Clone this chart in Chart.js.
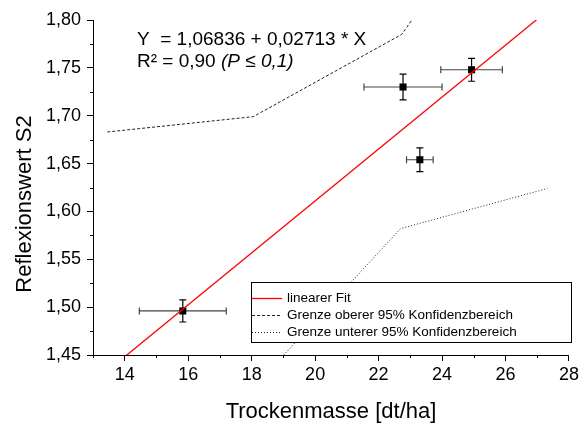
<!DOCTYPE html>
<html lang="de">
<head>
<meta charset="utf-8">
<title>Reflexionswert S2 und Trockenmasse</title>
<script src="https://cdn.jsdelivr.net/npm/chart.js"></script>
<style>
  body { margin: 0; background: #fff; }
  #wrap { width: 582px; height: 423px; position: relative; }
</style>
</head>
<body>
<div id="wrap"><canvas id="chart"></canvas></div>
<script>
// Mittelwerte mit Fehlern
const trockenmasse = [15.83, 22.77, 23.30, 24.93];
const trockenmasseFehler = [1.37, 1.23, 0.42, 0.97];
const reflexion = [1.496, 1.730, 1.654, 1.748];
const reflexionFehler = [0.0115, 0.0135, 0.0125, 0.012];

// lineare Regression
const fitAchsenabschnitt = 1.06836;
const fitSteigung = 0.02713;
const fitBereich = [13, 28];
const bestimmtheit = 0.90;

// Grenzen des 95%-Konfidenzbereichs
const obenX = [13.45, 18.05, 22.73, 23.05];
const obenY = [1.683, 1.699, 1.785, 1.800];
const untenX = [19.01, 22.69, 27.32];
const untenY = [1.450, 1.582, 1.624];

// Achsenteilung
const xTickWerte = [14, 16, 18, 20, 22, 24, 26, 28];
const xZwischenTicks = [13, 15, 17, 19, 21, 23, 25, 27];
const yTickWerte = [1.45, 1.50, 1.55, 1.60, 1.65, 1.70, 1.75, 1.80];
const yZwischenTicks = [1.475, 1.525, 1.575, 1.625, 1.675, 1.725, 1.775];

const SCHRIFT = '"Liberation Sans", Arial, sans-serif';
Chart.defaults.font.family = SCHRIFT;
Chart.defaults.color = '#000';

const komma = (v, d) => v.toFixed(d).replace('.', ',');
const paare = (xs, ys) => xs.map((x, i) => ({x, y: ys[i]}));

// Fehlerbalken unter den Messpunkten
const fehlerbalken = {
  id: 'fehlerbalken',
  beforeDatasetsDraw(chart) {
    const {ctx, scales: {x, y}} = chart;
    ctx.save();
    trockenmasse.forEach((xm, i) => {
      const ym = reflexion[i];
      const px = x.getPixelForValue(xm), py = y.getPixelForValue(ym);
      const x0 = x.getPixelForValue(xm - trockenmasseFehler[i]);
      const x1 = x.getPixelForValue(xm + trockenmasseFehler[i]);
      const y0 = y.getPixelForValue(ym - reflexionFehler[i]);
      const y1 = y.getPixelForValue(ym + reflexionFehler[i]);
      ctx.lineWidth = 1.2;
      ctx.strokeStyle = '#444';
      ctx.beginPath();
      ctx.moveTo(x0, py); ctx.lineTo(x1, py);
      ctx.moveTo(x0, py - 3.5); ctx.lineTo(x0, py + 3.5);
      ctx.moveTo(x1, py - 3.5); ctx.lineTo(x1, py + 3.5);
      ctx.stroke();
      ctx.strokeStyle = '#000';
      ctx.beginPath();
      ctx.moveTo(px, y0); ctx.lineTo(px, y1);
      ctx.moveTo(px - 3.5, y0); ctx.lineTo(px + 3.5, y0);
      ctx.moveTo(px - 3.5, y1); ctx.lineTo(px + 3.5, y1);
      ctx.stroke();
    });
    ctx.restore();
  }
};

// kurze Zwischenstriche, y-Achsentitel und Regressionsgleichung
const beschriftung = {
  id: 'beschriftung',
  afterDraw(chart) {
    const {ctx, chartArea: a, scales: {x, y}} = chart;
    ctx.save();
    ctx.strokeStyle = '#000';
    ctx.lineWidth = 1;
    ctx.beginPath();
    xZwischenTicks.forEach(v => {
      const px = Math.round(x.getPixelForValue(v)) + 0.5;
      ctx.moveTo(px, a.bottom); ctx.lineTo(px, a.bottom + 3);
    });
    yZwischenTicks.forEach(v => {
      const py = Math.round(y.getPixelForValue(v)) + 0.5;
      ctx.moveTo(a.left - 3, py); ctx.lineTo(a.left, py);
    });
    ctx.stroke();

    ctx.fillStyle = '#000';
    ctx.save();
    ctx.translate(25, (a.top + a.bottom) / 2 + 16.5);
    ctx.rotate(-Math.PI / 2);
    ctx.font = '22px ' + SCHRIFT;
    ctx.textAlign = 'center';
    ctx.textBaseline = 'middle';
    ctx.fillText('Reflexionswert S2', 0, 0);
    ctx.restore();

    const tx = a.left + 44;
    ctx.textBaseline = 'alphabetic';
    ctx.font = '19px ' + SCHRIFT;
    ctx.fillText(`Y  = ${komma(fitAchsenabschnitt, 5)} + ${komma(fitSteigung, 5)} * X`, tx, a.top + 25);
    const r2 = `R² = ${komma(bestimmtheit, 2)} `;
    ctx.fillText(r2, tx, a.top + 47);
    const w = ctx.measureText(r2).width;
    ctx.font = 'italic 19px ' + SCHRIFT;
    ctx.fillText('(P ≤ 0,1)', tx + w, a.top + 47);
    ctx.restore();
  }
};

// Legende im Kasten unten rechts
const legende = {
  id: 'legende',
  afterDraw(chart) {
    const {ctx, chartArea: a} = chart;
    const l = Math.round(a.left + 158), t = Math.round(a.bottom - 73);
    const r = Math.round(a.right + 2), b = Math.round(a.bottom - 13);
    ctx.save();
    ctx.fillStyle = '#fff';
    ctx.fillRect(l, t, r - l, b - t);
    ctx.strokeStyle = '#000';
    ctx.lineWidth = 1;
    ctx.strokeRect(l + 0.5, t + 0.5, r - l, b - t);
    ctx.font = '13.5px ' + SCHRIFT;
    ctx.textBaseline = 'middle';
    chart.data.datasets.filter(d => d.label).forEach((d, i) => {
      const yy = t + 16.5 + i * 17;
      ctx.beginPath();
      ctx.setLineDash(d.borderDash || []);
      ctx.strokeStyle = d.borderColor;
      ctx.lineWidth = d.borderWidth;
      ctx.moveTo(l + 1, yy); ctx.lineTo(l + 31, yy);
      ctx.stroke();
      ctx.setLineDash([]);
      ctx.fillStyle = '#000';
      ctx.fillText(d.label, l + 36, yy);
    });
    ctx.restore();
  }
};

new Chart(document.getElementById('chart'), {
  type: 'scatter',
  data: {
    datasets: [
      {
        label: 'linearer Fit',
        data: fitBereich.map(x => ({x, y: fitAchsenabschnitt + fitSteigung * x})),
        showLine: true, pointRadius: 0,
        borderColor: '#ff0000', borderWidth: 1.3,
        order: 0
      },
      {
        label: 'Grenze oberer 95% Konfidenzbereich',
        data: paare(obenX, obenY),
        showLine: true, pointRadius: 0,
        borderColor: '#222', borderWidth: 1, borderDash: [3, 2],
        order: 2
      },
      {
        label: 'Grenze unterer 95% Konfidenzbereich',
        data: paare(untenX, untenY),
        showLine: true, pointRadius: 0,
        borderColor: '#222', borderWidth: 1, borderDash: [1, 2],
        order: 2
      },
      {
        data: paare(trockenmasse, reflexion),
        pointStyle: 'rect', pointRadius: 5,
        backgroundColor: '#000', borderColor: '#000', borderWidth: 0,
        order: 1
      }
    ]
  },
  options: {
    responsive: true,
    maintainAspectRatio: false,
    animation: false,
    layout: { padding: { top: 20, right: 11, left: 0, bottom: 0 } },
    plugins: { legend: { display: false }, tooltip: { enabled: false } },
    scales: {
      x: {
        type: 'linear', min: 13, max: 28,
        afterFit: s => { s.height = 68; },
        afterBuildTicks: s => { s.ticks = xTickWerte.map(value => ({value})); },
        grid: { drawOnChartArea: false, color: '#000', tickLength: 6 },
        border: { color: '#000', width: 1 },
        ticks: { font: { size: 18 }, padding: 3, maxRotation: 0, autoSkip: false },
        title: { display: true, text: 'Trockenmasse [dt/ha]', font: { size: 22, lineHeight: 1 }, padding: 0 }
      },
      y: {
        type: 'linear', min: 1.45, max: 1.80,
        afterFit: s => { s.width = 93; },
        afterBuildTicks: s => { s.ticks = yTickWerte.map(value => ({value})); },
        grid: { drawOnChartArea: false, color: '#000', tickLength: 6 },
        border: { color: '#000', width: 1 },
        ticks: { font: { size: 18 }, padding: 6, autoSkip: false, callback: v => komma(v, 2) }
      }
    }
  },
  plugins: [fehlerbalken, beschriftung, legende]
});
</script>
</body>
</html>
